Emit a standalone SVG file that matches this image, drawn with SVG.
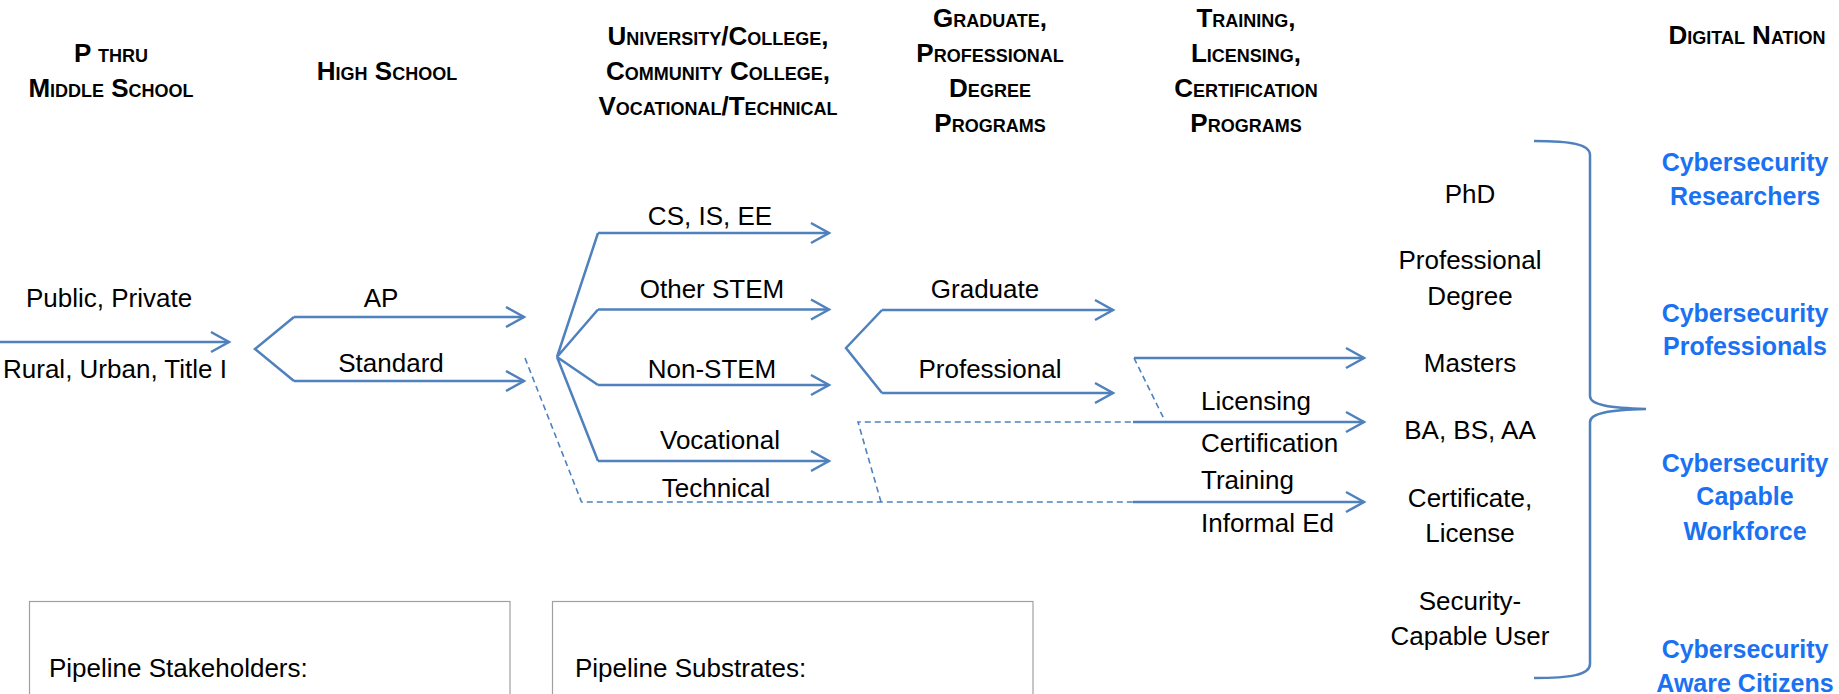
<svg xmlns="http://www.w3.org/2000/svg" width="1839" height="694" viewBox="0 0 1839 694">
<style>
.hd{font-family:"Liberation Sans",Arial,sans-serif;font-weight:bold;font-size:26px;font-variant:small-caps;fill:#000;text-anchor:middle}
.t{font-family:"Liberation Sans",Arial,sans-serif;font-size:26px;fill:#000;text-anchor:middle}
.tl{font-family:"Liberation Sans",Arial,sans-serif;font-size:26px;fill:#000}
.b{font-family:"Liberation Sans",Arial,sans-serif;font-weight:bold;font-size:25px;fill:#1a72f2;text-anchor:middle}
.ln{fill:none;stroke:#4f81bd;stroke-width:2.5;stroke-linejoin:miter}
.ar{fill:none;stroke:#4f81bd;stroke-width:2.5;marker-end:url(#ah)}
.ds{fill:none;stroke:#4f81bd;stroke-width:1.6;stroke-dasharray:6,4}
.box{fill:#fff;stroke:#a0a0a0;stroke-width:1.2}
</style>
<defs>
<marker id="ah" markerUnits="userSpaceOnUse" markerWidth="22" markerHeight="24" refX="19" refY="11" orient="auto" overflow="visible">
<path d="M1,1 L19,11 L1,21" fill="none" stroke="#4f81bd" stroke-width="2.5"/>
</marker>
</defs>
<rect width="1839" height="694" fill="#fff"/>

<g id="headers">
<text class="hd" x="111" y="62">P thru</text>
<text class="hd" x="111" y="97">Middle School</text>
<text class="hd" x="387" y="80">High School</text>
<text class="hd" x="718" y="45">University/College,</text>
<text class="hd" x="718" y="80">Community College,</text>
<text class="hd" x="718" y="115">Vocational/Technical</text>
<text class="hd" x="990" y="27">Graduate,</text>
<text class="hd" x="990" y="62">Professional</text>
<text class="hd" x="990" y="97">Degree</text>
<text class="hd" x="990" y="132">Programs</text>
<text class="hd" x="1246" y="27">Training,</text>
<text class="hd" x="1246" y="62">Licensing,</text>
<text class="hd" x="1246" y="97">Certification</text>
<text class="hd" x="1246" y="132">Programs</text>
<text class="hd" x="1747" y="44">Digital Nation</text>
</g>

<g id="connectors">
<path class="ar" d="M0,342 L229,342"/>
<path class="ln" d="M294,317 L255,349 L294,381"/>
<path class="ar" d="M294,317 L524,317"/>
<path class="ar" d="M294,381 L524,381"/>
<path class="ln" d="M598,233 L557,357 L598,309.5 M557,357 L598,385 M557,357 L598,461"/>
<path class="ar" d="M598,233 L829,233"/>
<path class="ar" d="M598,309.5 L829,309.5"/>
<path class="ar" d="M598,385 L829,385"/>
<path class="ar" d="M598,461 L829,461"/>
<path class="ln" d="M882,310 L846,348 L882,393"/>
<path class="ar" d="M882,310 L1113,310"/>
<path class="ar" d="M882,393 L1113,393"/>
<path class="ds" d="M525,358 L581.5,502 L1133,502"/>
<path class="ds" d="M881,502 L858,422 L1133,422"/>
<path class="ds" d="M1134,358 L1165,421"/>
<path class="ar" d="M1134,358 L1364,358"/>
<path class="ar" d="M1133,422 L1364,422"/>
<path class="ar" d="M1133,502 L1364,502"/>
<path class="ln" d="M1534,141 C1570,141 1590,144 1590,155 L1590,396 C1590,405 1610,408 1646,409 C1610,410 1590,413 1590,422 L1590,664 C1590,675 1570,678 1534,678"/>
</g>

<g id="edge-labels">
<text class="t" x="109" y="307">Public, Private</text>
<text class="t" x="115" y="378">Rural, Urban, Title I</text>
<text class="t" x="381" y="307">AP</text>
<text class="t" x="391" y="372">Standard</text>
<text class="t" x="710" y="225">CS, IS, EE</text>
<text class="t" x="712" y="298">Other STEM</text>
<text class="t" x="712" y="378">Non-STEM</text>
<text class="t" x="720" y="449">Vocational</text>
<text class="t" x="716" y="497">Technical</text>
<text class="t" x="985" y="298">Graduate</text>
<text class="t" x="990" y="378">Professional</text>
<text class="tl" x="1201" y="410">Licensing</text>
<text class="tl" x="1201" y="452">Certification</text>
<text class="tl" x="1201" y="489">Training</text>
<text class="tl" x="1201" y="532">Informal Ed</text>
</g>

<g id="outcomes">
<text class="t" x="1470" y="203">PhD</text>
<text class="t" x="1470" y="269">Professional</text>
<text class="t" x="1470" y="305">Degree</text>
<text class="t" x="1470" y="372">Masters</text>
<text class="t" x="1470" y="439">BA, BS, AA</text>
<text class="t" x="1470" y="507">Certificate,</text>
<text class="t" x="1470" y="542">License</text>
<text class="t" x="1470" y="610">Security-</text>
<text class="t" x="1470" y="645">Capable User</text>
</g>

<g id="nation">
<text class="b" x="1745" y="171">Cybersecurity</text>
<text class="b" x="1745" y="205">Researchers</text>
<text class="b" x="1745" y="322">Cybersecurity</text>
<text class="b" x="1745" y="355">Professionals</text>
<text class="b" x="1745" y="472">Cybersecurity</text>
<text class="b" x="1745" y="505">Capable</text>
<text class="b" x="1745" y="540">Workforce</text>
<text class="b" x="1745" y="658">Cybersecurity</text>
<text class="b" x="1745" y="692">Aware Citizens</text>
</g>

<g id="stakeholders">
<rect class="box" x="29.5" y="601.5" width="480.5" height="120"/>
<text class="tl" x="49" y="677">Pipeline Stakeholders:</text>
</g>
<g id="substrates">
<rect class="box" x="552.5" y="601.5" width="480.5" height="120"/>
<text class="tl" x="575" y="677">Pipeline Substrates:</text>
</g>
</svg>
